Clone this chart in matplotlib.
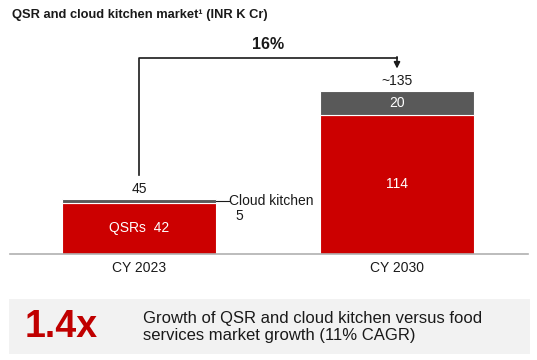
import matplotlib
matplotlib.use("Agg")
import matplotlib.pyplot as plt
from matplotlib.patches import Rectangle

plt.rcParams['font.family'] = ['Liberation Sans', 'DejaVu Sans']

years = ["CY 2023", "CY 2030"]
qsr = [42, 114]
cloud = [3, 20]
qsr_labels = ["QSRs  42", "114"]
cloud_labels = ["5", "20"]
totals = ["45", "~135"]
cagr = "16%"

RED = "#CC0000"
GREY = "#595959"
TXT = "#1a1a1a"

W, H = 537, 360
fig = plt.figure(figsize=(W / 100, H / 100), dpi=100)

# axes placed in pixel terms: baseline at y=254, 1.22 px per unit
base_px, top_px = 254, 30
left_px, right_px = 10, 528
ax = fig.add_axes([left_px / W, (H - base_px) / H,
                   (right_px - left_px) / W, (base_px - top_px) / H])
ax.set_ylim(0, (base_px - top_px) / 1.22)
ax.set_xlim(-0.5, -0.5 + (right_px - left_px) / 258)

x = [0, 1]
bw = 154 / 258
ax.bar(x, qsr, width=bw, color=RED, edgecolor="white", linewidth=0.8)
ax.bar(x, cloud, width=bw, bottom=qsr, color=GREY, edgecolor="white", linewidth=0.8)

for s in ["top", "right", "left"]:
    ax.spines[s].set_visible(False)
ax.spines["bottom"].set_color("#b0b0b0")
ax.spines["bottom"].set_linewidth(1.2)
ax.set_yticks([])
ax.set_xticks(x)
ax.set_xticklabels(years, fontsize=10, color=TXT)
ax.tick_params(axis="x", length=0, pad=5)

# segment labels
ax.text(x[0], qsr[0] / 2, qsr_labels[0], ha="center", va="center", color="white", fontsize=10)
ax.text(x[1], qsr[1] / 2, qsr_labels[1], ha="center", va="center", color="white", fontsize=10)
ax.text(x[1], qsr[1] + cloud[1] / 2, cloud_labels[1], ha="center", va="center", color="white", fontsize=10)

# cloud kitchen callout for 2023
edge = x[0] + bw / 2
ytop = qsr[0] + cloud[0] / 2
ax.plot([edge, edge + 0.05], [ytop, ytop], color=TXT, lw=0.8, clip_on=False)
ax.text(edge + 0.05, ytop, "Cloud kitchen", ha="left", va="center", fontsize=10, color=TXT)
ax.text(edge + 0.075, ytop - 12, cloud_labels[0], ha="left", va="center", fontsize=10, color=TXT)

# totals
ax.text(x[0], qsr[0] + cloud[0] + 8, totals[0], ha="center", va="center", fontsize=10, color=TXT)
ax.text(x[1], qsr[1] + cloud[1] + 8, totals[1], ha="center", va="center", fontsize=10, color=TXT)

# CAGR connector
yh = 161
ax.plot([x[0], x[0], x[1]], [65, yh, yh], color=TXT, lw=1.2, clip_on=False)
ax.annotate("", xy=(x[1], 152), xytext=(x[1], yh + 0.6),
            arrowprops=dict(arrowstyle="-|>", color=TXT, lw=1.2, mutation_scale=9,
                            shrinkA=0, shrinkB=0))
ax.text((x[0] + x[1]) / 2, 171.5, cagr, ha="center", va="center", fontsize=11.5,
        fontweight="bold", color=TXT)

fig.text(12 / W, 1 - 15 / H, "QSR and cloud kitchen market\u00b9 (INR K Cr)",
         ha="left", va="center", fontsize=9.3, fontweight="bold", color=TXT)

# bottom highlight box
fig.patches.append(Rectangle((9 / W, 1 - 354 / H), (530 - 9) / W, (354 - 299) / H,
                             transform=fig.transFigure, facecolor="#f2f2f2",
                             edgecolor="none", zorder=0))
fig.text(25 / W, 1 - 327 / H, "1.4x", ha="left", va="center", fontsize=27,
         fontweight="bold", color="#C00000")
fig.text(143 / W, 1 - 327 / H,
         "Growth of QSR and cloud kitchen versus food\nservices market growth (11% CAGR)",
         ha="left", va="center", fontsize=12, color=TXT, linespacing=1.15)

fig.savefig("out.png", dpi=100)
